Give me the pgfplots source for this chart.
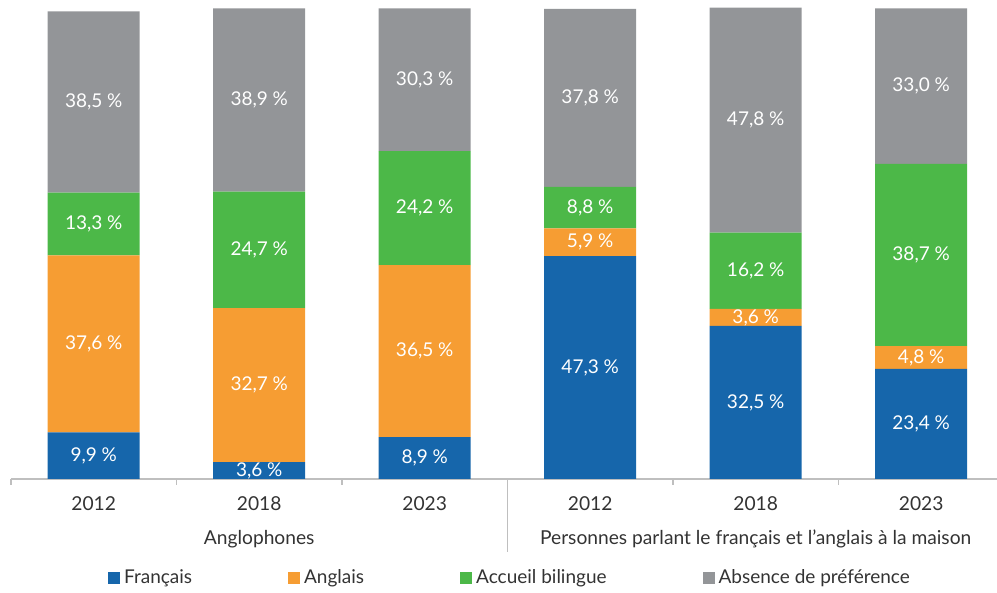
\documentclass[border=0pt]{standalone}
\usepackage{pgfplots}
\pgfplotsset{compat=1.18}
\usepackage{pgfplotstable}
\usepackage{fontspec}
\setmainfont{Lato}
\definecolor{cfr}{HTML}{1666AB}
\definecolor{can}{HTML}{F69D33}
\definecolor{cac}{HTML}{4CB848}
\definecolor{cab}{HTML}{939598}
\definecolor{axgray}{HTML}{BFBFBF}
\definecolor{txt}{HTML}{333333}

\pgfplotstableread{
x  fr   an   ac   ab
0  9.9  37.6 13.3 38.5
1  3.6  32.7 24.7 38.9
2  8.9  36.5 24.2 30.3
3  47.3 5.9  8.8  37.8
4  32.5 3.6  16.2 47.8
5  23.4 4.8  38.7 33.0
}\shares

\begin{document}
\begin{tikzpicture}[x=1pt,y=1pt]
\useasboundingbox (0,0) rectangle (498.5,296.5);
\begin{axis}[
  at={(5.5pt,57pt)}, anchor=south west,
  scale only axis, width=493pt, height=235.5pt,
  ybar stacked, bar width=46pt,
  xmin=-0.5, xmax=5.458, ymin=0, ymax=100,
  axis x line*=bottom, axis y line=none,
  axis line style={draw=axgray, line width=0.6pt},
  xtick={0,...,5}, xticklabels={2012,2018,2023,2012,2018,2023},
  major tick length=0pt,
  xticklabel style={anchor=base, yshift=-15.75pt, font=\fontsize{9.6}{11}\selectfont, text=txt},
  extra x ticks={-0.5,0.5,1.5,3.5,4.5}, extra x tick labels={},
  extra x tick style={major tick length=3pt, tick align=outside, tick style={draw=axgray, line width=0.6pt}},
  /pgf/number format/assume math mode=true,
  nodes near coords={\pgfmathprintnumber[fixed, fixed zerofill, precision=1, use comma]{\pgfplotspointmeta}~\%},
  every node near coord/.append style={anchor=center, text=white, font=\fontsize{9.5}{10}\selectfont},
  legend style={at={(0.5071,-0.2102)}, anchor=center, draw=none, fill=none,
    legend columns=4, font=\fontsize{9.5}{11}\selectfont, text=txt,
    /tikz/every even column/.append style={column sep=46pt}},
  legend image code/.code={\fill[#1] (0pt,-3pt) rectangle (6pt,3pt);},
  clip=false,
]
\addplot[fill=cfr, draw=none] table[x=x, y=fr] {\shares};
\addplot[fill=can, draw=none] table[x=x, y=an] {\shares};
\addplot[fill=cac, draw=none] table[x=x, y=ac] {\shares};
\addplot[fill=cab, draw=none] table[x=x, y=ab] {\shares};
\legend{Français, Anglais, Accueil bilingue, Absence de préférence}
\draw[axgray, line width=0.6pt] (axis cs:2.5,0) -- ([yshift=-36.5pt]axis cs:2.5,0);
\node[anchor=base, text=txt, font=\fontsize{9.6}{11}\selectfont] at ([yshift=-33pt]axis cs:1,0) {Anglophones};
\node[anchor=base, text=txt, font=\fontsize{9.6}{11}\selectfont] at ([yshift=-33pt]axis cs:4,0) {Personnes parlant le français et l’anglais à la maison};
\end{axis}
\end{tikzpicture}
\end{document}
